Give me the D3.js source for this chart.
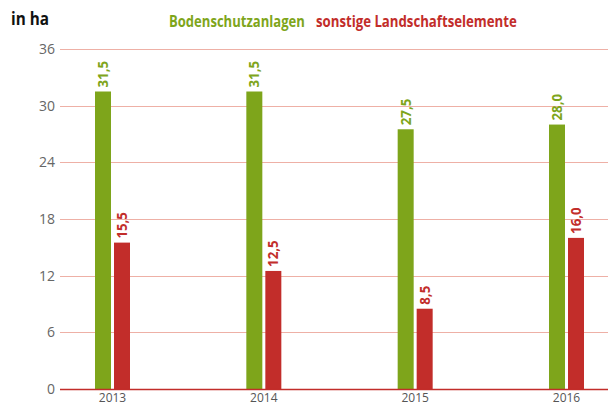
<!DOCTYPE html>
<html>
<head>
<meta charset="utf-8">
<script src="https://cdn.jsdelivr.net/npm/d3@7"></script>
<style>
  body { margin: 0; background: #fff; }
  text { font-family: "Open Sans", "DejaVu Sans", sans-serif; }
</style>
</head>
<body>
<div id="chart"></div>
<script>
const years = ["2013", "2014", "2015", "2016"];
const boden = [31.5, 31.5, 27.5, 28.0];
const sonstige = [15.5, 12.5, 8.5, 16.0];
const seriesNames = ["Bodenschutzanlagen", "sonstige Landschaftselemente"];
const yTicks = [0, 6, 12, 18, 24, 30, 36];

const width = 608, height = 405;
const green = "#7ea51b", red = "#c22d2a";

const svg = d3.select("#chart").append("svg")
  .attr("width", width).attr("height", height);

const x = d3.scalePoint().domain(years).range([112.5, 566.5]);
const y = d3.scaleLinear().domain([0, 36]).range([389, 49]);

// condensed look: squeeze text horizontally to a target width
function squeeze(sel, x0, y0, target) {
  const len = sel.node().getComputedTextLength();
  sel.attr("transform", `translate(${x0},${y0}) scale(${target / len},1)`);
}

// gridlines
svg.append("g")
  .selectAll("line")
  .data(yTicks.filter(d => d > 0))
  .join("line")
    .attr("x1", 60).attr("x2", width)
    .attr("y1", d => Math.round(y(d)) + 0.5).attr("y2", d => Math.round(y(d)) + 0.5)
    .attr("stroke", "#eeb0a6").attr("stroke-width", 1);

// y tick labels
svg.append("g")
  .selectAll("text")
  .data(yTicks)
  .join("text")
    .attr("x", 55).attr("y", d => y(d) + 5)
    .attr("text-anchor", "end")
    .attr("fill", "#666")
    .style("font-size", "14px")
    .text(d => d);

const bw = 16;
const fmt = v => v.toFixed(1).replace(".", ",");
const series = [
  { values: boden, color: green, dx: -17.5 },
  { values: sonstige, color: red, dx: 1.5 }
];

series.forEach(s => {
  const g = svg.append("g");
  g.selectAll("rect")
    .data(s.values)
    .join("rect")
      .attr("x", (d, i) => x(years[i]) + s.dx)
      .attr("y", d => y(d))
      .attr("width", bw)
      .attr("height", d => y(0) - y(d))
      .attr("fill", s.color);
  g.selectAll("text")
    .data(s.values)
    .join("text")
      .attr("transform", (d, i) => `translate(${x(years[i]) + s.dx + bw / 2 + 5},${y(d) - 4}) rotate(-90) scale(0.95,1)`)
      .attr("fill", s.color)
      .style("font-size", "14px")
      .style("font-weight", "bold")
      .text(d => fmt(d));
});

// baseline
svg.append("line")
  .attr("x1", 60).attr("x2", width)
  .attr("y1", y(0) + 0.5).attr("y2", y(0) + 0.5)
  .attr("stroke", "#c22d2a").attr("stroke-width", 1.5);

// x labels
svg.append("g")
  .selectAll("text")
  .data(years)
  .join("text")
    .attr("x", d => x(d)).attr("y", 402)
    .attr("text-anchor", "middle")
    .attr("fill", "#555")
    .style("font-size", "12px")
    .text(d => d);

// title
const title = svg.append("text")
  .attr("fill", "#111")
  .style("font-size", "18px").style("font-weight", "bold")
  .text("in ha");
squeeze(title, 11, 25, 38);

// legend
const leg1 = svg.append("text")
  .attr("fill", green)
  .style("font-size", "16px").style("font-weight", "bold")
  .text(seriesNames[0]);
squeeze(leg1, 169, 27, 136);
const leg2 = svg.append("text")
  .attr("fill", red)
  .style("font-size", "16px").style("font-weight", "bold")
  .text(seriesNames[1]);
squeeze(leg2, 316, 27, 201);
</script>
</body>
</html>
